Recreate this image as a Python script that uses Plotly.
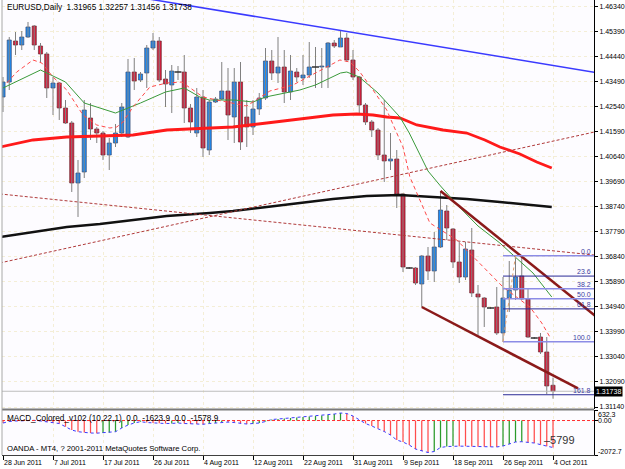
import plotly.graph_objects as go

# ---------------- data (bar index 0 = 28 Jun 2011 ... 88 = 4 Oct 2011) ----------------
opens = [1.42911, 1.43480, 1.45037, 1.44885, 1.45189, 1.45607, 1.44847, 1.44544, 1.43253, 1.43442,
         1.42493, 1.41924, 1.39645, 1.40063, 1.42114, 1.41696, 1.41544, 1.40709, 1.41164, 1.41544,
         1.41392, 1.43860, 1.43556, 1.43822, 1.44771, 1.45037, 1.43594, 1.43367, 1.43860, 1.43860,
         1.42493, 1.41544, 1.42911, 1.40898, 1.42721, 1.42835, 1.43139, 1.42152, 1.43480, 1.42152,
         1.41772, 1.42455, 1.42873, 1.44278, 1.43822, 1.44050, 1.43101, 1.43860, 1.43632, 1.43746,
         1.44050, 1.44050, 1.44050, 1.44961, 1.44809, 1.45151, 1.44316, 1.43670, 1.42607, 1.41962,
         1.41658, 1.40709, 1.40481, 1.40557, 1.39228, 1.36418, 1.36418, 1.35810, 1.36874, 1.36304,
         1.37215, 1.38582, 1.37899, 1.36646, 1.36076, 1.37101, 1.35431, 1.35279, 1.34899, 1.34937,
         1.33950, 1.35279, 1.35583, 1.36114, 1.35241, 1.33760, 1.33798, 1.33229, 1.31965]
highs = [1.43670, 1.45189, 1.45379, 1.45417, 1.45759, 1.45645, 1.44961, 1.44620, 1.43670, 1.43480,
         1.42797, 1.42000, 1.40519, 1.42797, 1.42683, 1.41772, 1.41620, 1.41354, 1.41886, 1.42683,
         1.44354, 1.44392, 1.43860, 1.44885, 1.45341, 1.45189, 1.43936, 1.44126, 1.44088, 1.44506,
         1.42645, 1.43253, 1.43177, 1.42797, 1.42911, 1.44240, 1.44012, 1.44012, 1.44240, 1.42797,
         1.42797, 1.43063, 1.44771, 1.44695, 1.45189, 1.44695, 1.44506, 1.44012, 1.44506, 1.44999,
         1.44809, 1.44771, 1.44999, 1.45075, 1.45455, 1.45341, 1.44695, 1.43708, 1.42683, 1.42038,
         1.41734, 1.42797, 1.41544, 1.40898, 1.39266, 1.36456, 1.36456, 1.36912, 1.37215, 1.37785,
         1.39342, 1.38810, 1.37937, 1.37405, 1.37405, 1.37937, 1.35773, 1.35317, 1.34937, 1.35697,
         1.36076, 1.36684, 1.36798, 1.36912, 1.35659, 1.33798, 1.33950, 1.33798, 1.32257]
lows = [1.42341, 1.43177, 1.44506, 1.44695, 1.45151, 1.44695, 1.44202, 1.42873, 1.42227, 1.42038,
        1.41886, 1.39304, 1.38355, 1.39835, 1.41278, 1.41164, 1.40519, 1.40139, 1.41012, 1.41392,
        1.41354, 1.43177, 1.43480, 1.43253, 1.44695, 1.43480, 1.42531, 1.42303, 1.43556, 1.41924,
        1.41544, 1.41392, 1.40633, 1.40709, 1.42683, 1.42797, 1.41278, 1.41164, 1.40898, 1.41012,
        1.41468, 1.42227, 1.42797, 1.43556, 1.43442, 1.42683, 1.42797, 1.43480, 1.43367, 1.43632,
        1.43253, 1.43253, 1.43253, 1.44771, 1.44809, 1.44240, 1.43556, 1.42303, 1.41848, 1.41392,
        1.40519, 1.39683, 1.40139, 1.38696, 1.36266, 1.36380, 1.35773, 1.34937, 1.35962, 1.35886,
        1.37177, 1.37481, 1.36418, 1.35848, 1.35962, 1.35317, 1.33874, 1.34178, 1.34861, 1.33874,
        1.33608, 1.34747, 1.35203, 1.35203, 1.33760, 1.33722, 1.33153, 1.31634, 1.31456]
closes = [1.43480, 1.45075, 1.44885, 1.45189, 1.45569, 1.44885, 1.44544, 1.43253, 1.43442, 1.42493,
          1.41924, 1.39645, 1.40025, 1.42417, 1.41696, 1.41544, 1.40709, 1.41164, 1.41544, 1.42531,
          1.43860, 1.43518, 1.43784, 1.44771, 1.45037, 1.43556, 1.43405, 1.43898, 1.43860, 1.42493,
          1.41962, 1.42911, 1.40974, 1.42721, 1.42835, 1.43139, 1.42227, 1.43480, 1.41202, 1.41772,
          1.42455, 1.42873, 1.44278, 1.43822, 1.44050, 1.43101, 1.43898, 1.43670, 1.43746, 1.44050,
          1.44050, 1.44088, 1.44961, 1.44847, 1.45151, 1.44316, 1.43670, 1.42607, 1.41962, 1.41658,
          1.40709, 1.40481, 1.40557, 1.39228, 1.36456, 1.36418, 1.35848, 1.36874, 1.36304, 1.37215,
          1.38620, 1.37937, 1.36646, 1.36076, 1.37139, 1.35469, 1.35317, 1.34937, 1.34899, 1.33950,
          1.35279, 1.35583, 1.36076, 1.35241, 1.33798, 1.33760, 1.33229, 1.31938, 1.31738]

# moving averages (bar position, price)
green_ma_x = [0, 6, 10, 13, 18, 22, 26, 29, 31.5, 33, 37, 40, 42, 47.5, 50, 54, 55, 57, 60, 63.5,
              65, 68, 70, 73, 76, 79.5, 81.6, 84.8, 87.8]
green_ma_y = [1.43253, 1.43936, 1.43480, 1.42683, 1.42303, 1.42683, 1.43101, 1.43253, 1.42911, 1.42797,
              1.42797, 1.42721, 1.42911, 1.43177, 1.43367, 1.43822, 1.43860, 1.43670, 1.43063, 1.42152,
              1.41544, 1.40101, 1.39532, 1.38734, 1.38013, 1.37367, 1.36912, 1.36228, 1.35317]
red_dash_x = [0.6, 2.2, 4.8, 6.2, 8, 10.2, 12.8, 15, 17.1, 18.2, 19.2, 20.8, 23.5, 26.2, 28.6, 30.4,
              32, 34.2, 39, 42.7, 46.4, 51.8, 53.9, 55.5, 57.1, 59.2, 61.4, 63, 64, 65.1, 66.7, 68.3,
              72.6, 76, 80, 84.3, 86.2, 87.5]
red_dash_y = [1.43442, 1.43860, 1.44316, 1.44202, 1.43670, 1.43177, 1.42227, 1.41848, 1.41734, 1.41772,
              1.41962, 1.42531, 1.43291, 1.43442, 1.43480, 1.43177, 1.42911, 1.42797, 1.42569, 1.43139,
              1.43367, 1.44050, 1.44316, 1.44240, 1.43860, 1.43177, 1.42417, 1.41544, 1.41012, 1.39873,
              1.39000, 1.38127, 1.37481, 1.36646, 1.35697, 1.34937, 1.34330, 1.33798]
red_ma_x = [-0.5, 4.8, 10.2, 15.5, 20.8, 26.2, 33.1, 36.8, 42.2, 47.5, 52.8, 56.6, 59.2, 61.4, 63.5,
            66.2, 70.4, 74.2, 77.1, 79.5, 82.7, 85.4, 87.8]
red_ma_y = [1.41012, 1.41278, 1.41392, 1.41430, 1.41468, 1.41658, 1.41734, 1.41772, 1.41924, 1.42076,
            1.42227, 1.42265, 1.42227, 1.42152, 1.42114, 1.41848, 1.41658, 1.41544, 1.41278, 1.41012,
            1.40747, 1.40443, 1.40215]
black_ma_x = [-0.5, 4.8, 10.2, 15.5, 20.8, 26.2, 33.1, 36.8, 42.2, 47.5, 52.8, 58.2, 63.5, 68.8,
              74.2, 79.5, 84.8, 87.8]
black_ma_y = [1.37595, 1.37785, 1.37975, 1.38089, 1.38241, 1.38392, 1.38506, 1.38582, 1.38734, 1.38886,
              1.39038, 1.39152, 1.39190, 1.39114, 1.39038, 1.38924, 1.38810, 1.38734]

# trend lines (two anchor points each: bar position, price)
blue_line_x, blue_line_y = [20, 95], [1.46761, 1.43837]
dot_line_a_x, dot_line_a_y = [-0.5, 94.6], [1.39230, 1.36910]
dot_line_b_x, dot_line_b_y = [-0.5, 94.6], [1.36610, 1.41580]
chan_upper_x, chan_upper_y = [70, 95], [1.39340, 1.34550]
chan_lower_x, chan_lower_y = [67, 92], [1.34937, 1.31843]

# Fibonacci retracement
fib_anchor_x = [80, 82]
fib_low, fib_high = 1.33620, 1.36880
fib_levels = [0.0, 23.6, 38.2, 50.0, 61.8, 100.0, 161.8]
fib_labels = ["0.0", "23.6", "38.2", "50.0", "61.8", "100.0", "161.8"]

# MACD histogram values
macd = [-150, -60, -30, -20, 30, 10, -30, -90, -120, -180,
        -373, -571, -673, -721, -751, -760, -745, -721, -673, -451,
        -270, -150, -72, -120, -150, -160, -180, -175, -150, -180,
        -210, -215, -225, -180, -150, -90, -95, -120, -180, -210,
        -180, -150, -60, 60, 90, 120, 150, 180, 210, 240,
        270, 300, 330, 390, 450, 420, 270, 30, -180, -330,
        -481, -661, -871, -1172, -1292, -1472, -1713, -1833, -1923, -1863,
        -1623, -1563, -1533, -1540, -1545, -1563, -1575, -1580, -1585, -1590,
        -1533, -1412, -1292, -1274, -1322, -1352, -1450, -1540, -1624]
macd_max, macd_min = 632.3, -2072.7

# axis labels
price_ticks = ["1.46340", "1.45390", "1.44440", "1.43490", "1.42540", "1.41590", "1.40640", "1.39690",
               "1.38740", "1.37790", "1.36840", "1.35890", "1.34940", "1.33990", "1.33040", "1.32090",
               "1.31140"]
date_tick_bars = [0, 8, 16, 24, 32, 40, 48, 56, 64, 72, 80, 88]
date_labels = ["28 Jun 2011", "7 Jul 2011", "17 Jul 2011", "26 Jul 2011", "4 Aug 2011", "12 Aug 2011",
               "22 Aug 2011", "31 Aug 2011", "9 Sep 2011", "18 Sep 2011", "26 Sep 2011", "4 Oct 2011"]

# ---------------- figure ----------------
W, H = 625, 469
ML, MR, MT, MB = 2, 31, 0, 14
PH = H - MT - MB            # 455
XR = [-0.16, 94.56]
YR = [1.31064, 1.46594]
main_dom = [46 / PH, 1.0]
macd_dom = [0.0, 45 / PH]
FONT = "Liberation Sans, Arial, sans-serif"

n = len(closes)
bars = list(range(n))
fig = go.Figure()

# wicks
wx, wy = [], []
for i in bars:
    wx += [i, i, None]
    wy += [lows[i], highs[i], None]
fig.add_trace(go.Scatter(x=wx, y=wy, mode="lines", line=dict(color="#808080", width=1),
                         hoverinfo="skip", xaxis="x", yaxis="y"))

# bodies
bull_x, bull_b, bull_h, bear_x, bear_b, bear_h, doji_x, doji_y = [], [], [], [], [], [], [], []
for i in bars:
    o, c = opens[i], closes[i]
    if abs(c - o) < 0.0002:
        doji_x.append(i); doji_y.append(c)
    elif c > o:
        bull_x.append(i); bull_b.append(o); bull_h.append(c - o)
    else:
        bear_x.append(i); bear_b.append(c); bear_h.append(o - c)
fig.add_trace(go.Bar(x=bull_x, y=bull_h, base=bull_b, width=0.66,
                     marker=dict(color="#1e8cf5", line=dict(color="#3a4a70", width=0.7)),
                     xaxis="x", yaxis="y", hoverinfo="skip"))
fig.add_trace(go.Bar(x=bear_x, y=bear_h, base=bear_b, width=0.66,
                     marker=dict(color="#d81e3e", line=dict(color="#6a2a30", width=0.7)),
                     xaxis="x", yaxis="y", hoverinfo="skip"))
fig.add_trace(go.Scatter(x=doji_x, y=doji_y, mode="markers",
                         marker=dict(symbol="line-ew", size=5, line=dict(color="#303030", width=1.5)),
                         xaxis="x", yaxis="y", hoverinfo="skip"))

# indicator lines
def line(x, y, color, width, dash=None, ax="x", ay="y"):
    fig.add_trace(go.Scatter(x=x, y=y, mode="lines", line=dict(color=color, width=width, dash=dash),
                             xaxis=ax, yaxis=ay, hoverinfo="skip"))

line(black_ma_x, black_ma_y, "#111111", 2.5)
line(red_ma_x, red_ma_y, "#ff1a1a", 2.8)
line(green_ma_x, green_ma_y, "#3a9a3a", 1)
line(red_dash_x, red_dash_y, "#ff4a4a", 1, "4px,3px")

# objects
line(dot_line_a_x, dot_line_a_y, "#b03a3a", 1, "3px,2px")
line(dot_line_b_x, dot_line_b_y, "#b03a3a", 1, "3px,2px")
line(blue_line_x, blue_line_y, "#3a3aff", 1.5)
line(chan_upper_x, chan_upper_y, "#8b1a1a", 2.5)
line(chan_lower_x, chan_lower_y, "#8b1a1a", 2.5)

# Fibonacci
rng = fib_high - fib_low
fib_prices = [fib_high - r / 100.0 * rng for r in fib_levels]
for k, p in enumerate(fib_prices):
    light = fib_labels[k] in ("0.0", "38.2", "50.0", "100.0")
    line([fib_anchor_x[0], XR[1] + 1], [p, p], "#8c8ce6" if light else "#2a2a96", 1.5 if light else 1)
line(fib_anchor_x, [fib_low, fib_high], "#e0a070", 1, "3px,3px")

# MACD
mcol = ["#2a9a2a" if (i > 0 and macd[i] > macd[i - 1]) else "#ff4c4c" for i in bars]
fig.add_trace(go.Bar(x=bars, y=macd, width=0.2, marker=dict(color=mcol, line=dict(width=0)),
                     xaxis="x2", yaxis="y2", hoverinfo="skip"))
line(bars, macd, "#3a3aff", 1, "dot", "x2", "y2")

shapes = [
    dict(type="line", xref="paper", x0=0, x1=1, yref="y2", y0=0, y1=0,
         line=dict(color="#ff3030", width=1, dash="3px,2px")),
    dict(type="line", xref="paper", x0=0, x1=1, yref="y", y0=closes[-1], y1=closes[-1],
         line=dict(color="#bdbdbd", width=1)),
    dict(type="line", xref="paper", x0=0, x1=1, yref="paper", y0=45.5 / PH, y1=45.5 / PH,
         line=dict(color="#7a7a7a", width=2)),
    dict(type="line", xref="paper", x0=0, x1=0, yref="paper", y0=0, y1=1,
         line=dict(color="#a8a8a8", width=1)),
]

ann = []
def txt(text, x, y, xref="paper", yref="paper", xa="left", ya="middle", size=7, color="#000000", **kw):
    ann.append(dict(text=text, x=x, y=y, xref=xref, yref=yref, xanchor=xa, yanchor=ya,
                    showarrow=False, font=dict(family=FONT, size=size, color=color), **kw))

def px2paper_x(px):
    return (px - ML) / (W - ML - MR)

def px2paper_y(py):
    return (PH + MT - py) / PH

txt("EURUSD,Daily\u00a0 %.5f %.5f %.5f %.5f" % (opens[-1], highs[-1], lows[-1], closes[-1]),
    px2paper_x(5), px2paper_y(7.5), size=8.2)
txt("MACD_Colored_v102 (10,22,1)\u00a0 0.0\u00a0 -1623.9\u00a0 0.0\u00a0 -1578.9",
    px2paper_x(5), px2paper_y(418.5), size=8.2)
txt("OANDA - MT4, ? 2001-2011 MetaQuotes Software Corp.", px2paper_x(5), px2paper_y(448.5), size=7.7)
for b, lab in zip(date_tick_bars, date_labels):
    txt(lab, b, px2paper_y(462.5), xref="x2", xshift=-1.5)
for lab, p in zip(fib_labels, fib_prices):
    txt(lab, 1, p, yref="y", xa="right", ya="bottom", color="#3c3ca0", xshift=-1, yshift=-1)
ann.append(dict(text="%.5f" % closes[-1], x=1, y=closes[-1], xref="paper", yref="y", xanchor="left",
                yanchor="middle", showarrow=False, bgcolor="#000000", borderpad=1,
                font=dict(family=FONT, size=7, color="#ffffff")))
txt("%.1f" % macd_max, 1, macd_max, yref="y2", xshift=2, yshift=-4)
txt("0.00", 1, 0, yref="y2", xshift=2)
txt("%.1f" % macd_min, 1, macd_min, yref="y2", xshift=2, yshift=4)
txt("\u20135799", px2paper_x(542), px2paper_y(440), size=11, color="#333333")

grid = dict(showgrid=True, gridcolor="#f4eed6", griddash="dot", gridwidth=1)
fig.update_layout(
    width=W, height=H, margin=dict(l=ML, r=MR, t=MT, b=MB, pad=0),
    paper_bgcolor="#ffffff", plot_bgcolor="#fdfcff", showlegend=False, barmode="overlay",
    font=dict(family=FONT, size=7, color="#000000"),
    xaxis=dict(domain=[0, 1], range=XR, anchor="y", tickvals=date_tick_bars, showticklabels=False,
               ticks="", zeroline=False, showline=False, fixedrange=True, **grid),
    yaxis=dict(domain=main_dom, range=YR, anchor="x", side="right",
               tickvals=[float(t) for t in price_ticks], ticktext=price_ticks,
               ticks="outside", ticklen=3, tickcolor="#000000", tickwidth=1,
               showline=True, linecolor="#000000", linewidth=1, zeroline=False,
               tickfont=dict(family=FONT, size=7, color="#000000"), fixedrange=True, **grid),
    xaxis2=dict(domain=[0, 1], range=XR, anchor="y2", matches="x", tickvals=date_tick_bars,
                showticklabels=False, ticks="outside", ticklen=4, tickcolor="#000000",
                showline=True, linecolor="#404040", linewidth=1, zeroline=False, fixedrange=True, **grid),
    yaxis2=dict(domain=macd_dom, range=[macd_min, macd_max], anchor="x2", side="right",
                tickvals=[macd_max, 0, macd_min], showticklabels=False, ticks="outside", ticklen=3,
                tickcolor="#000000", showline=True, linecolor="#000000", linewidth=1,
                showgrid=False, zeroline=False, fixedrange=True),
    shapes=shapes, annotations=ann,
)

fig.write_html("out.html", include_plotlyjs=True, config={"displayModeBar": False, "staticPlot": True})
